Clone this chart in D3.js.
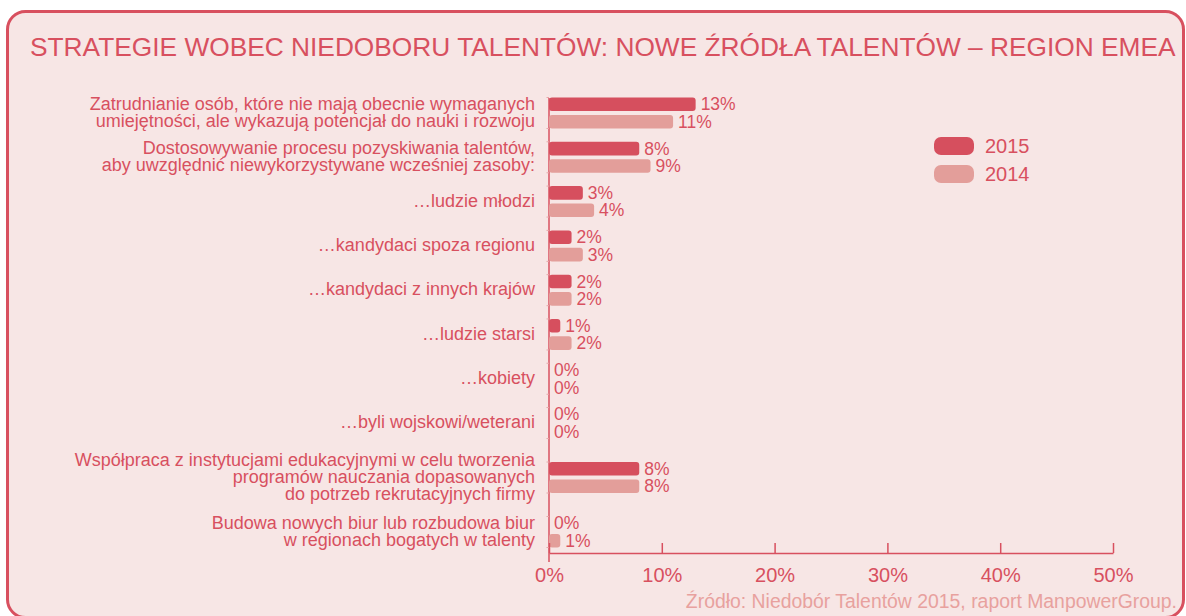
<!DOCTYPE html>
<html>
<head>
<meta charset="utf-8">
<script src="https://cdn.jsdelivr.net/npm/d3@7"></script>
<style>
  body { margin: 0; background: #fff; }
  text { font-family: "Liberation Sans", Arial, Helvetica, sans-serif; }
</style>
</head>
<body>
<div id="chart"></div>
<script>
// data
var title = "STRATEGIE WOBEC NIEDOBORU TALENTÓW: NOWE ŹRÓDŁA TALENTÓW – REGION EMEA";
var source = "Źródło: Niedobór Talentów 2015, raport ManpowerGroup.";
var categories = [
  "Zatrudnianie osób, które nie mają obecnie wymaganych\numiejętności, ale wykazują potencjał do nauki i rozwoju",
  "Dostosowywanie procesu pozyskiwania talentów,\naby uwzględnić niewykorzystywane wcześniej zasoby:",
  "…ludzie młodzi",
  "…kandydaci spoza regionu",
  "…kandydaci z innych krajów",
  "…ludzie starsi",
  "…kobiety",
  "…byli wojskowi/weterani",
  "Współpraca z instytucjami edukacyjnymi w celu tworzenia\nprogramów nauczania dopasowanych\ndo potrzeb rekrutacyjnych firmy",
  "Budowa nowych biur lub rozbudowa biur\nw regionach bogatych w talenty"
];
var years = ["2015", "2014"];
var values2015 = [13, 8, 3, 2, 2, 1, 0, 0, 8, 0];
var values2014 = [11, 9, 4, 3, 2, 2, 0, 0, 8, 1];
var xTicks = [0, 10, 20, 30, 40, 50];

var width = 1186;
var height = 616;
var red = "#d8505f";
var colors = {"2015": "#d64f5e", "2014": "#e39e9a"};

var svg = d3.select("#chart")
  .append("svg")
  .attr("width", width)
  .attr("height", height);

// frame
svg.append("rect")
  .attr("x", 7.5)
  .attr("y", 11.5)
  .attr("width", 1176)
  .attr("height", 606)
  .attr("rx", 18)
  .attr("fill", "#f7e6e5")
  .attr("stroke", "#d8505f")
  .attr("stroke-width", 3);

svg.append("text")
  .attr("x", 30)
  .attr("y", 56)
  .attr("fill", red)
  .style("font-size", "26.3px")
  .text(title);

var x = d3.scaleLinear().domain([0, 50]).range([549, 1113]);

// groups with 3-line labels get a bit more room around them
var lines = categories.map(function(c) { return c.split("\n"); });
var pos = [0];
for (var i = 1; i < categories.length; i++) {
  var extra = (lines[i - 1].length > 2 || lines[i].length > 2) ? 0.23 : 0;
  pos.push(pos[i - 1] + 1 + extra);
}
var y = d3.scaleLinear().domain([0, pos[pos.length - 1]]).range([113, 532]);
var inner = d3.scaleBand().domain(years).range([-15.5, 15.5]).paddingInner(0.22);

var data = categories.map(function(c, i) {
  return {cat: c, lines: lines[i], cy: y(pos[i]),
          vals: [{year: "2015", v: values2015[i]}, {year: "2014", v: values2014[i]}]};
});

var axisY = 553;

// vertical axis line + small ticks
svg.append("line")
  .attr("x1", x(0)).attr("x2", x(0))
  .attr("y1", y(0) - 15).attr("y2", axisY + 9)
  .attr("stroke", red).attr("stroke-width", 1.5);

var g = svg.selectAll(".group")
  .data(data)
  .enter().append("g")
  .attr("class", "group")
  .attr("transform", function(d) { return "translate(0," + d.cy + ")"; });

g.selectAll(".tk")
  .data([-15.5, 15.5])
  .enter().append("line")
  .attr("x1", x(0) - 2.5).attr("x2", x(0))
  .attr("y1", function(d) { return d; }).attr("y2", function(d) { return d; })
  .attr("stroke", "#e7a7a9").attr("stroke-width", 1);

// category labels
g.append("text")
  .attr("text-anchor", "end")
  .attr("fill", red)
  .style("font-size", "18px")
  .selectAll("tspan")
  .data(function(d) { return d.lines.map(function(l, j) { return {l: l, j: j, n: d.lines.length}; }); })
  .enter().append("tspan")
  .attr("x", 535)
  .attr("y", function(t) { return -1 + (t.j - (t.n - 1) / 2) * 16.8; })
  .attr("dy", "0.35em")
  .text(function(t) { return t.l; });

// bars
g.selectAll(".bar")
  .data(function(d) { return d.vals; })
  .enter().append("rect")
  .attr("class", "bar")
  .attr("x", x(0))
  .attr("y", function(d) { return inner(d.year); })
  .attr("height", inner.bandwidth())
  .attr("width", function(d) { return x(d.v) - x(0); })
  .attr("rx", function(d) { return d.v > 0 ? 3 : 0; })
  .attr("fill", function(d) { return colors[d.year]; });

g.selectAll(".val")
  .data(function(d) { return d.vals; })
  .enter().append("text")
  .attr("class", "val")
  .attr("x", function(d) { return x(d.v) + 5; })
  .attr("y", function(d) { return inner(d.year) + inner.bandwidth() / 2; })
  .attr("dy", "0.35em")
  .attr("fill", red)
  .style("font-size", "17.5px")
  .text(function(d) { return d.v + "%"; });

// x axis
var xAxis = svg.append("g")
  .attr("transform", "translate(0," + axisY + ")")
  .call(d3.axisBottom(x)
    .tickValues(xTicks)
    .tickFormat(function(d) { return d + "%"; })
    .tickSizeInner(-10)
    .tickSizeOuter(0)
    .tickPadding(15));
xAxis.select(".domain").attr("stroke", red).attr("stroke-width", 1.5);
xAxis.selectAll(".tick line").attr("stroke", red).attr("stroke-width", 1.5);
xAxis.selectAll(".tick text")
  .attr("fill", red)
  .style("font-size", "20px")
  .style("font-family", "'Liberation Sans', Arial, sans-serif");

// legend
var legend = svg.selectAll(".legend")
  .data(years)
  .enter().append("g")
  .attr("class", "legend")
  .attr("transform", function(d, i) { return "translate(934," + (137 + i * 28) + ")"; });

legend.append("rect")
  .attr("width", 40)
  .attr("height", 18)
  .attr("rx", 7)
  .attr("fill", function(d) { return colors[d]; });

legend.append("text")
  .attr("x", 51)
  .attr("y", 9)
  .attr("dy", "0.35em")
  .attr("fill", red)
  .style("font-size", "20px")
  .text(function(d) { return d; });

svg.append("text")
  .attr("x", 1177)
  .attr("y", 608)
  .attr("text-anchor", "end")
  .attr("fill", "#e8a19e")
  .style("font-size", "19.4px")
  .text(source);
</script>
</body>
</html>
